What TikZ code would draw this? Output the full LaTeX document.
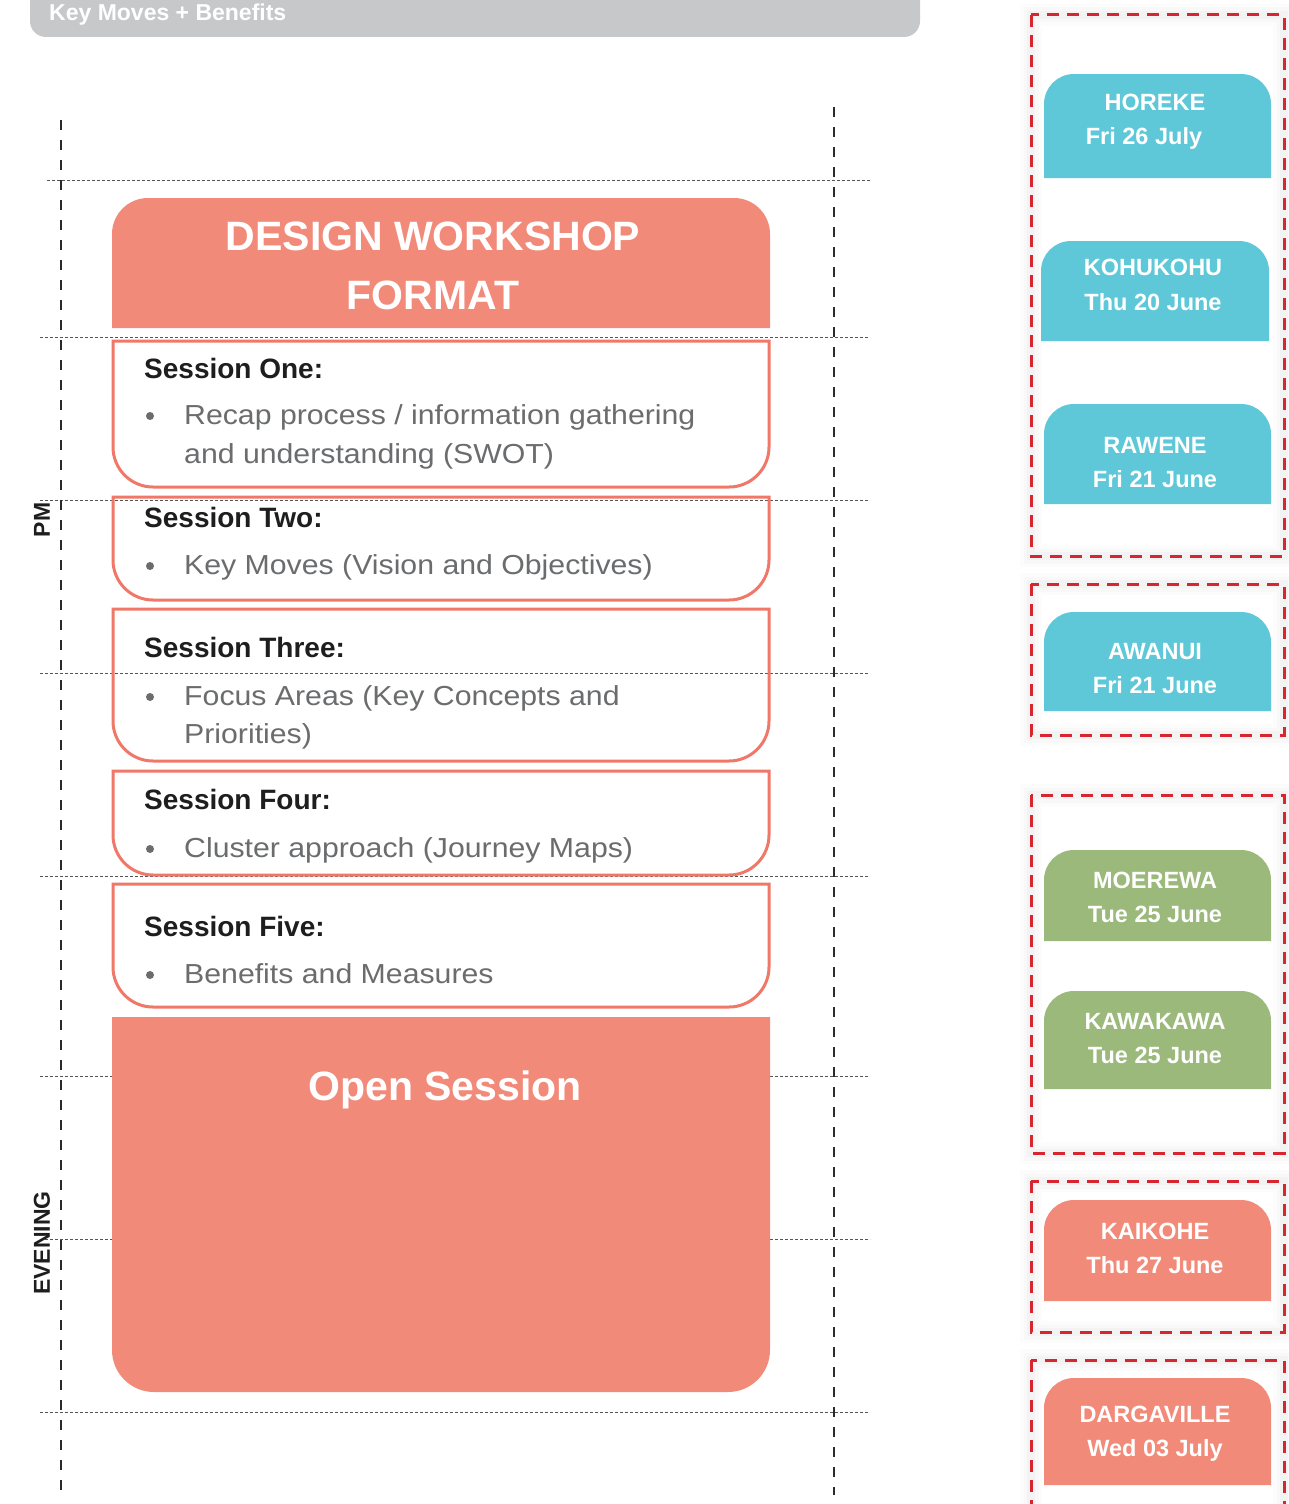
\documentclass[tikz,border=0pt]{standalone}
\usepackage{fontspec}
\setmainfont{Liberation Sans}
\newfontfamily\itemfont[FakeStretch=1.1]{Liberation Sans}
\definecolor{salmon}{HTML}{F28A79}
\definecolor{sessedge}{HTML}{F07868}
\definecolor{cityblue}{HTML}{5EC8D8}
\definecolor{citygreen}{HTML}{9BB97A}
\definecolor{reddash}{HTML}{D7262F}
\definecolor{bannergrey}{HTML}{C7C8CA}
\definecolor{titlecol}{HTML}{1E1E1E}
\definecolor{itemcol}{HTML}{6B6C6E}
\definecolor{guide}{HTML}{2A2A2A}
\newcommand\fsz[1]{\fontsize{#1}{#1}\selectfont}
% shape with rounded bottom corners: opts, x1, y1, x2, y2, r
\newcommand\botround[6]{%
  \path[#1] (#2,#3) -- (#4,#3) -- (#4,{#5-#6})
    .. controls (#4,{#5-0.448*#6}) and ({#4-0.448*#6},#5) .. ({#4-#6},#5)
    -- ({#2+#6},#5)
    .. controls ({#2+0.448*#6},#5) and (#2,{#5-0.448*#6}) .. (#2,{#5-#6})
    -- cycle;}
% shape with rounded top corners
\newcommand\topround[6]{%
  \path[#1] (#2,#5) -- (#4,#5) -- (#4,{#3+#6})
    .. controls (#4,{#3+0.448*#6}) and ({#4-0.448*#6},#3) .. ({#4-#6},#3)
    -- ({#2+#6},#3)
    .. controls ({#2+0.448*#6},#3) and (#2,{#3+0.448*#6}) .. (#2,{#3+#6})
    -- cycle;}
\begin{document}
\begin{tikzpicture}[x=1pt,y=-1pt,
  hguide/.style={draw=guide!80, line width=0.9, dash pattern=on 3 off 2},
  vguide/.style={draw=guide, line width=2.8, dash pattern=on 10 off 10},
  sess/.style={draw=sessedge, line width=3},
  stitle/.style={anchor=base west, inner sep=0, text=titlecol, font=\fsz{28}\bfseries},
  sitem/.style={anchor=base west, inner sep=0, text=itemcol, font=\fsz{27.5}\itemfont},
  bul/.style={circle, fill=itemcol, inner sep=0, minimum size=8},
  bigtxt/.style={anchor=base, inner sep=0, text=white, font=\fsz{41}\bfseries},
  city/.style={anchor=base, inner sep=0, text=white, font=\fsz{23.5}\bfseries},
  side/.style={inner sep=0, text=titlecol, font=\fsz{23}\bfseries, rotate=90},
  redbox/.style={draw=reddash, line width=3, dash pattern=on 12 off 8}
]
\useasboundingbox[fill=white] (0,0) rectangle (1288,1504);

% banner
\botround{fill=bannergrey}{30}{-30}{920}{37}{16}
\node[anchor=base west, inner sep=0, text=white, font=\fsz{23}\bfseries] (banner) at (49,21) {Key Moves + Benefits};

% horizontal guides
\foreach \yy/\xa in {180/47,337/40,500/40,673/40,876/40,1076/40,1239/40,1412/40}
  \draw[hguide] (\xa,\yy) -- (870,\yy);

% header and open session
\topround{fill=salmon}{112}{198}{770}{328}{36}
\node[bigtxt] (hd1) at (433,250) {DESIGN WORKSHOP};
\node[bigtxt] (hd2) at (433,309) {FORMAT};
\botround{fill=salmon}{112}{1017}{770}{1392}{42}
\node[bigtxt] (open) at (445,1100) {Open Session};

% sessions
\botround{sess}{113}{341}{769}{487}{40}
\node[stitle] (s1t) at (144,378) {Session One:};
\node[bul] (s1b) at (150,416) {};
\node[sitem] (s1a) at (184,424) {Recap process / information gathering};
\node[sitem] (s1c) at (184,463) {and understanding (SWOT)};

\botround{sess}{113}{497}{769}{600}{40}
\node[stitle] (s2t) at (144,527) {Session Two:};
\node[bul] (s2b) at (150,566) {};
\node[sitem] (s2a) at (184,574) {Key Moves (Vision and Objectives)};

\botround{sess}{113}{609}{769}{761}{40}
\node[stitle] (s3t) at (144,657) {Session Three:};
\node[bul] (s3b) at (150,697) {};
\node[sitem] (s3a) at (184,705) {Focus Areas (Key Concepts and};
\node[sitem] (s3c) at (184,743) {Priorities)};

\botround{sess}{113}{771}{769}{875}{40}
\node[stitle] (s4t) at (144,809) {Session Four:};
\node[bul] (s4b) at (150,849) {};
\node[sitem] (s4a) at (184,857) {Cluster approach (Journey Maps)};

\botround{sess}{113}{884}{769}{1007}{40}
\node[stitle] (s5t) at (144,936) {Session Five:};
\node[bul] (s5b) at (150,975) {};
\node[sitem] (s5a) at (184,983) {Benefits and Measures};

% vertical guides
\draw[vguide] (61,120) -- (61,1495);
\draw[vguide] (834,107) -- (834,1495);
\node[side] (pm) at (42,520) {PM};
\node[side] (eve) at (42,1243) {EVENING};

% right column: dashed groups with soft shadow
\foreach \ya/\yb in {15/556,584/735,795/1153,1181/1332,1360/1540} {
  \draw[line width=22, black, opacity=0.012] (1031,\ya) rectangle (1284,\yb);
  \draw[line width=15, black, opacity=0.015] (1031,\ya) rectangle (1284,\yb);
  \draw[line width=8, black, opacity=0.02] (1031,\ya) rectangle (1284,\yb);
  \draw[redbox] (1031,\ya) rectangle (1284,\yb);
}

\topround{fill=cityblue}{1044}{74}{1271}{178}{30}
\node[city] (c1a) at (1155,110) {HOREKE};
\node[city] (c1b) at (1144,144) {Fri 26 July};

\topround{fill=cityblue}{1041}{241}{1269}{341}{30}
\node[city] (c2a) at (1153,275) {KOHUKOHU};
\node[city] (c2b) at (1153,310) {Thu 20 June};

\topround{fill=cityblue}{1044}{404}{1271}{504}{30}
\node[city] (c3a) at (1155,453) {RAWENE};
\node[city] (c3b) at (1155,487) {Fri 21 June};

\topround{fill=cityblue}{1044}{612}{1271}{711}{30}
\node[city] (c4a) at (1155,659) {AWANUI};
\node[city] (c4b) at (1155,693) {Fri 21 June};

\topround{fill=citygreen}{1044}{850}{1271}{941}{30}
\node[city] (c5a) at (1155,888) {MOEREWA};
\node[city] (c5b) at (1155,922) {Tue 25 June};

\topround{fill=citygreen}{1044}{991}{1271}{1089}{30}
\node[city] (c6a) at (1155,1029) {KAWAKAWA};
\node[city] (c6b) at (1155,1063) {Tue 25 June};

\topround{fill=salmon}{1044}{1200}{1271}{1301}{30}
\node[city] (c7a) at (1155,1239) {KAIKOHE};
\node[city] (c7b) at (1155,1273) {Thu 27 June};

\topround{fill=salmon}{1044}{1378}{1271}{1485}{30}
\node[city] (c8a) at (1155,1422) {DARGAVILLE};
\node[city] (c8b) at (1155,1456) {Wed 03 July};
\end{tikzpicture}
\end{document}
